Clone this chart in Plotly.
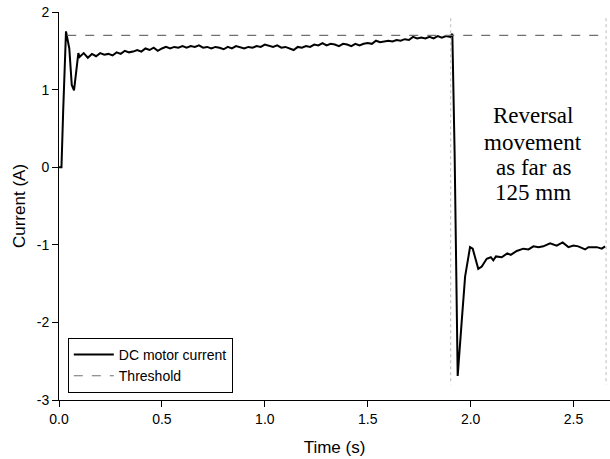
import plotly.graph_objects as go

# Time (s) and DC motor current (A)
time_s = [
    0.000, 0.012, 0.020, 0.034, 0.050, 0.062, 0.073, 0.085, 0.094,
    0.10, 0.12, 0.14, 0.16, 0.18, 0.20, 0.22, 0.24, 0.26, 0.28,
    0.30, 0.32, 0.34, 0.36, 0.38, 0.40, 0.42, 0.44, 0.46, 0.48,
    0.50, 0.52, 0.54, 0.56, 0.58, 0.60, 0.62, 0.64, 0.66, 0.68,
    0.70, 0.72, 0.74, 0.76, 0.78, 0.80, 0.82, 0.84, 0.86, 0.88,
    0.90, 0.92, 0.94, 0.96, 0.98, 1.00, 1.02, 1.04, 1.06, 1.08,
    1.10, 1.12, 1.14, 1.16, 1.18, 1.20, 1.22, 1.24, 1.26, 1.28,
    1.30, 1.32, 1.34, 1.36, 1.38, 1.40, 1.42, 1.44, 1.46, 1.48,
    1.50, 1.52, 1.54, 1.56, 1.58, 1.60, 1.62, 1.64, 1.66, 1.68,
    1.70, 1.72, 1.74, 1.76, 1.78, 1.80, 1.82, 1.84, 1.86, 1.88,
    1.90, 1.911, 1.922, 1.930, 1.937, 1.957, 1.973, 1.997, 2.010,
    2.037, 2.054, 2.078, 2.098, 2.110, 2.123, 2.151, 2.178, 2.195,
    2.224, 2.256, 2.281, 2.305, 2.330, 2.353, 2.386, 2.418, 2.447,
    2.475, 2.499, 2.523, 2.556, 2.572, 2.613, 2.637, 2.653,
]
current_a = [
    0.00, 0.00, 0.70, 1.75, 1.53, 1.06, 0.99, 1.30, 1.47,
    1.42, 1.47, 1.41, 1.46, 1.43, 1.47, 1.45, 1.46, 1.44, 1.48,
    1.46, 1.50, 1.48, 1.49, 1.51, 1.49, 1.53, 1.51, 1.54, 1.50,
    1.53, 1.55, 1.53, 1.55, 1.54, 1.56, 1.54, 1.56, 1.55, 1.57,
    1.54, 1.55, 1.53, 1.55, 1.54, 1.52, 1.55, 1.53, 1.56, 1.54,
    1.53, 1.55, 1.54, 1.56, 1.55, 1.58, 1.56, 1.55, 1.57, 1.54,
    1.55, 1.53, 1.51, 1.55, 1.54, 1.56, 1.55, 1.58, 1.57, 1.60,
    1.57, 1.59, 1.58, 1.56, 1.59, 1.58, 1.56, 1.59, 1.57, 1.59,
    1.60, 1.59, 1.63, 1.61, 1.62, 1.63, 1.62, 1.64, 1.63, 1.65,
    1.64, 1.68, 1.66, 1.67, 1.66, 1.68, 1.66, 1.69, 1.67, 1.69,
    1.68, 1.72, 0.20, -1.60, -2.69, -1.97, -1.41, -1.03, -1.05,
    -1.31, -1.28, -1.18, -1.16, -1.20, -1.15, -1.16, -1.11, -1.13,
    -1.08, -1.05, -1.06, -1.02, -1.03, -1.02, -0.98, -1.01, -0.97,
    -1.03, -1.01, -1.02, -1.06, -1.03, -1.03, -1.05, -1.02,
]

threshold_time = [0.04, 2.66]
threshold_value = [1.70, 1.70]

marker_times = [1.903, 2.658]
y_ticks = [2, 1, 0, -1, -2, -3]
y_tick_text = ["2", "1", "0", "-1", "-2", "-3"]
x_ticks = [0.0, 0.5, 1.0, 1.5, 2.0, 2.5]
x_tick_text = ["0.0", "0.5", "1.0", "1.5", "2.0", "2.5"]
note_lines = ["Reversal", "movement", "as far as", "125 mm"]
note_y = [0.66, 0.315, -0.005, -0.33]
note_x = 2.305

sans = "Arial, Liberation Sans, sans-serif"
serif = "Times New Roman, Liberation Serif, serif"

fig = go.Figure()
fig.add_trace(go.Scatter(
    x=time_s, y=current_a, mode="lines", name="DC motor current",
    line=dict(color="black", width=2),
))
fig.add_trace(go.Scatter(
    x=threshold_time, y=threshold_value, mode="lines", name="Threshold",
    line=dict(color="#707070", width=1.2, dash="dash"),
))

for t in marker_times:
    fig.add_shape(type="line", x0=t, x1=t, y0=1.92, y1=-2.8,
                  line=dict(color="#bbbbbb", width=1, dash="dot"), layer="below")

for txt, yv in zip(note_lines, note_y):
    fig.add_annotation(
        x=note_x, y=yv, text=txt, showarrow=False,
        font=dict(family=serif, size=23, color="black"),
        xanchor="center", yanchor="middle",
    )

fig.update_layout(
    width=610, height=459,
    margin=dict(l=59, r=0, t=12, b=59),
    plot_bgcolor="white", paper_bgcolor="white",
    font=dict(family=sans, size=14, color="black"),
    showlegend=True,
    legend=dict(
        x=0.016, y=0.089, xanchor="left", yanchor="middle",
        bordercolor="black", borderwidth=1, bgcolor="white",
        font=dict(family=sans, size=14, color="black"),
        tracegroupgap=0, itemwidth=40,
    ),
    xaxis=dict(
        range=[0, 2.677], tickvals=x_ticks, ticktext=x_tick_text,
        showgrid=False, zeroline=False, showline=True, linecolor="black", linewidth=1,
        ticks="outside", ticklen=6, tickcolor="black", automargin=False,
        ticklabeloverflow="allow",
        title=dict(text="Time (s)", font=dict(family=sans, size=17), standoff=15),
        tickfont=dict(family=sans, size=14),
    ),
    yaxis=dict(
        range=[-3, 2], tickvals=y_ticks, ticktext=y_tick_text,
        showgrid=False, zeroline=False, showline=True, linecolor="black", linewidth=1,
        ticks="outside", ticklen=6, tickcolor="black", automargin=False,
        ticklabeloverflow="allow",
        title=dict(text="Current (A)", font=dict(family=sans, size=17), standoff=6),
        tickfont=dict(family=sans, size=14),
    ),
)

# remove the page's default body margin so the figure fills the window exactly
fig.write_html(
    "out.html",
    config={"displayModeBar": False},
    post_script="document.body.style.margin='0';document.body.style.overflow='hidden';",
)
